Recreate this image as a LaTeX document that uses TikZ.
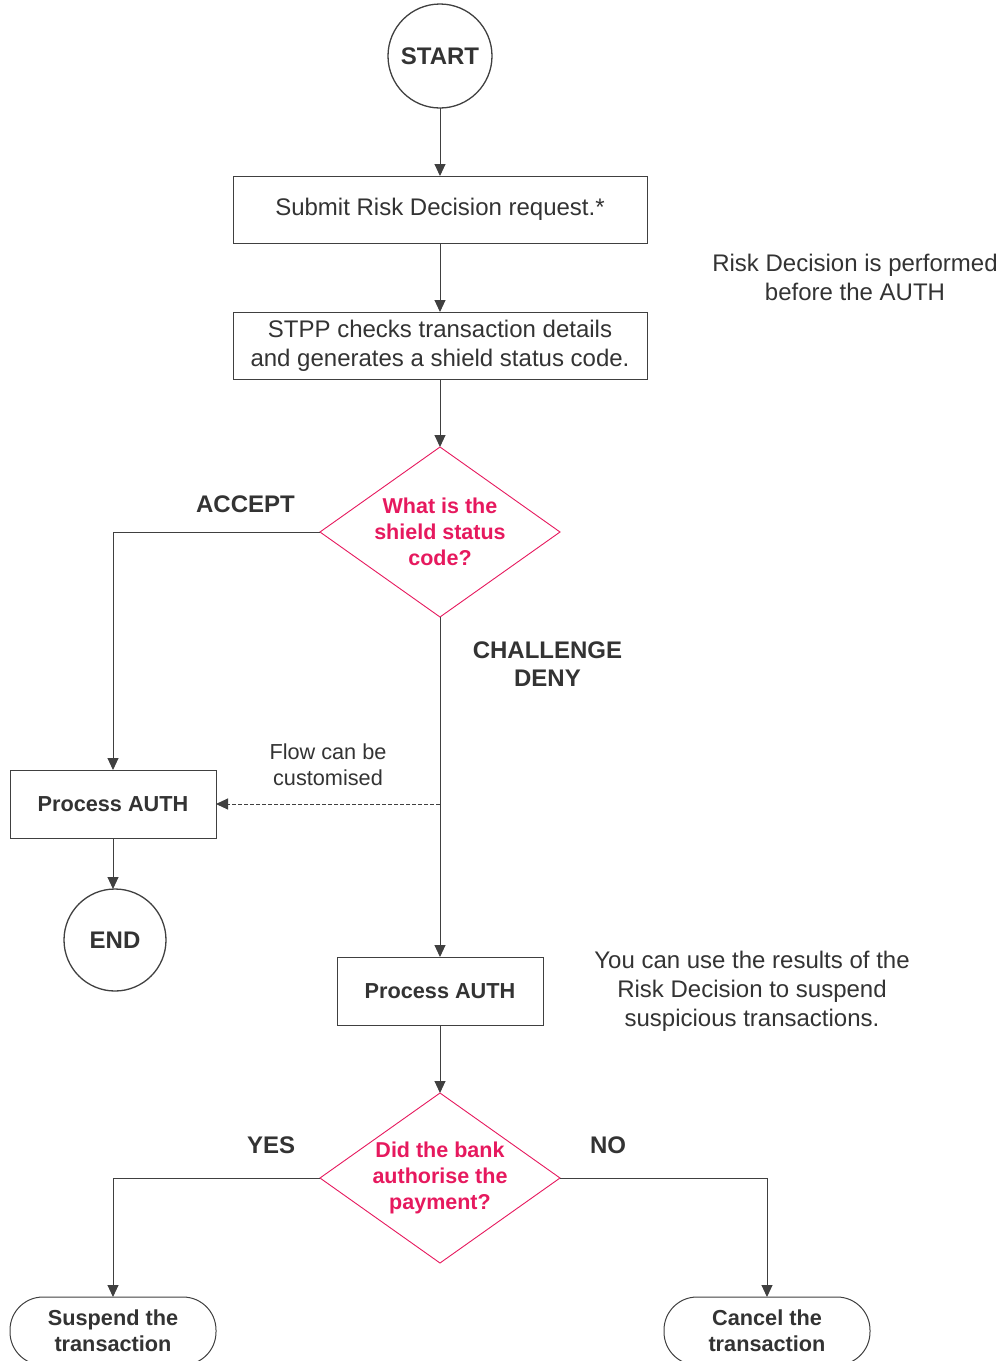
\documentclass[tikz,border=0pt]{standalone}
\usepackage{fontspec}
\setmainfont{Liberation Sans}
\usetikzlibrary{positioning,shapes.geometric,arrows.meta}
\definecolor{ink}{HTML}{333333}
\definecolor{wire}{HTML}{404040}
\definecolor{shield}{HTML}{E6195E}
\tikzset{
	box/.style = {
		draw = wire,
		fill = white,
		rectangle,
		line width = 1pt,
		outer sep = 0pt,
		text = ink,
		align = center,
		minimum height = 67pt,
		minimum width = 414pt,
		font = \fontsize{24}{28.8}\selectfont
	},
	authbox/.style = {
		box,
		minimum width = 206pt,
		minimum height = 68pt,
		font = \fontsize{21.7}{26}\selectfont\bfseries
	},
	outcome/.style = {
		authbox,
		rounded corners = 33pt
	},
	terminal/.style = {
		draw = wire,
		circle,
		line width = 1.3pt,
		outer sep = 0pt,
		text = ink,
		inner sep = 0pt,
		minimum size = 104pt,
		font = \fontsize{24}{28.8}\selectfont\bfseries
	},
	question/.style = {
		draw = shield,
		diamond,
		aspect = 1.41,
		inner sep = 0pt,
		outer sep = 0pt,
		minimum width = 240pt,
		minimum height = 170pt,
		line width = 0.9pt,
		text = shield,
		align = center,
		font = \fontsize{21.5}{26}\selectfont\bfseries
	},
	arrow/.style = {
		draw = wire,
		line width = 1pt,
		-{Triangle[length=12pt,width=11pt]}
	},
	branch/.style = {
		text = ink,
		align = center,
		font = \fontsize{24}{28}\selectfont\bfseries
	},
	note/.style = {
		text = ink,
		align = center,
		font = \fontsize{24}{29}\selectfont
	}
}

\begin{document}
\begin{tikzpicture}[x=1pt, y=-1pt]
    \useasboundingbox (0,0) rectangle (1005,1361) ;

    \node [terminal] (start) at (440,56) {START} ;
    \node [box, below = 68pt of start] (submit) {Submit Risk Decision request.*} ;
    \node [box, below = 69pt of submit] (checks) {STPP checks transaction details\\and generates a shield status code.} ;
    \node [question, below = 68pt of checks] (status) {What is the\\shield status\\code?} ;
    \node [authbox, below = 340pt of status] (authmain) {Process AUTH} ;
    \node [question, below = 68pt of authmain] (authorised) {Did the bank\\authorise the\\payment?} ;

    \node [authbox] (authside) at (113,804) {Process AUTH} ;
    \node [terminal, minimum size = 102pt, below = 51pt of authside, xshift = 2pt] (end) {END} ;
    \node [outcome] (suspend) at (113,1331) {Suspend the\\transaction} ;
    \node [outcome] (cancel) at (767,1331) {Cancel the\\transaction} ;

    \node [note] (before) at (855,277) {Risk Decision is performed\\before the AUTH} ;
    \node [note] (results) at (752,991) {You can use the results of the\\Risk Decision to suspend\\suspicious transactions.} ;

    \draw [arrow] (start) -- (submit) ;
    \draw [arrow] (submit) -- (checks) ;
    \draw [arrow] (checks) -- (status) ;
    \draw [arrow] (status.west) -| node [branch, above = 15pt, pos = 0.18] (accept) {ACCEPT} (authside) ;
    \draw [arrow] (status) -- node [branch, right = 29pt, pos = 0.138] (deny) {CHALLENGE\\DENY} (authmain) ;
    \draw [arrow] (authside) -- (authside |- end.north) ;
    \coordinate (split) at (status.south |- authside.east) ;
    \draw [arrow, dash pattern = on 4pt off 2pt] (split) -- node [note, font = \fontsize{21.7}{26}\selectfont, above = 14pt] (custom) {Flow can be\\customised} (authside.east) ;
    \draw [arrow] (authmain) -- (authorised) ;
    \draw [arrow] (authorised.west) -| node [branch, above = 20pt, pos = 0.118] (yes) {YES} (suspend) ;
    \draw [arrow] (authorised.east) -| node [branch, above = 20pt, pos = 0.116] (no) {NO} (cancel) ;
\end{tikzpicture}
\end{document}
